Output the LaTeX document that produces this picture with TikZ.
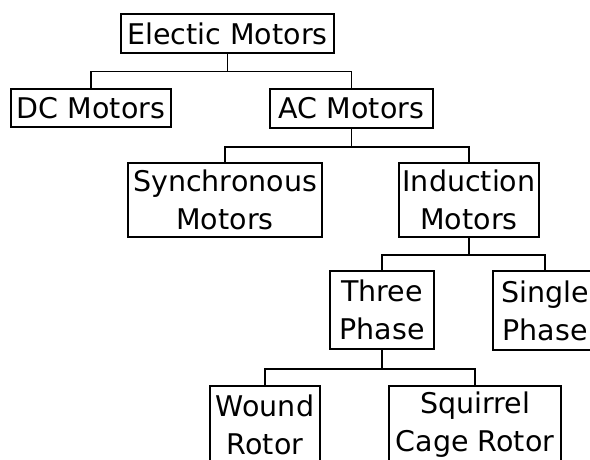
\documentclass[tikz,border=0pt]{standalone}
\usepackage{fontspec}
\newfontfamily\boxfont{DejaVu Sans}

\begin{document}
\begin{tikzpicture}[x=1pt, y=-1pt,
  box/.style={draw, line width=1.5pt, inner sep=0pt, align=center,
    font=\boxfont\fontsize{28.5}{38}\selectfont},
  link/.style={line width=1.5pt}]
  \useasboundingbox (0,0) rectangle (590,460);
  \clip (0,0) rectangle (590,460);

  \node[box, minimum width=213pt, minimum height=39pt] (electric) at (227.5,33.5) {Electic Motors};
  \node[box, minimum width=160pt, minimum height=38pt] (dc) at (91,108) {DC Motors};
  \node[box, minimum width=163pt, minimum height=39pt] (ac) at (351.5,108.5) {AC Motors};
  \node[box, minimum width=194pt, minimum height=74pt] (sync) at (225,200) {Synchronous\\Motors};
  \node[box, minimum width=140pt, minimum height=74pt] (induction) at (469,200) {Induction\\Motors};
  \node[box, minimum width=104pt, minimum height=78pt] (three) at (382,310) {Three\\Phase};
  \node[box, minimum width=104pt, minimum height=79pt] (single) at (545,310.5) {Single\\Phase};
  \node[box, minimum width=110pt, minimum height=78pt] (wound) at (265,425) {Wound\\Rotor};
  \node[box, minimum width=172pt, minimum height=78pt] (squirrel) at (475,425) {Squirrel\\Cage Rotor};

  \draw[link] (electric.south) -- ++(0,18) -| (dc.north);
  \draw[link] (electric.south) -- ++(0,18) -| (ac.north);
  \draw[link] (ac.south) -- ++(0,18.5) -| (sync.north);
  \draw[link] (ac.south) -- ++(0,18.5) -| (induction.north);
  \draw[link] (induction.south) -- ++(0,17) -| (three.north);
  \draw[link] (induction.south) -- ++(0,17) -| (single.north);
  \draw[link] (three.south) -- ++(0,19) -| (wound.north);
  \draw[link] (three.south) -- ++(0,19) -| (squirrel.north);
\end{tikzpicture}
\end{document}
